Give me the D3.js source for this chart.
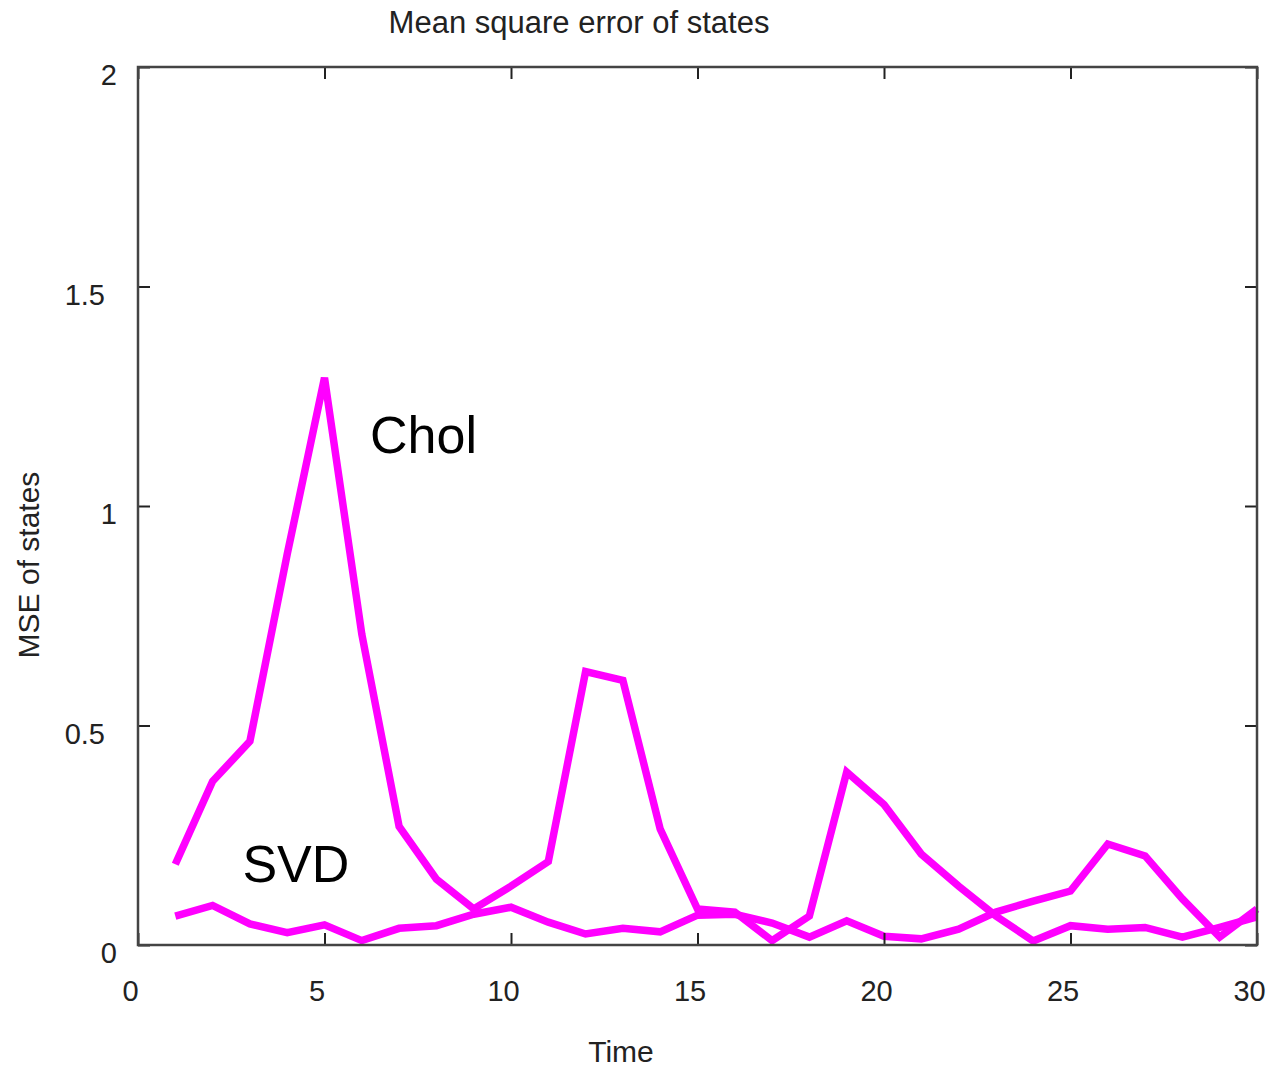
<!DOCTYPE html>
<html>
<head>
<meta charset="utf-8">
<script src="https://cdn.jsdelivr.net/npm/d3@7"></script>
<style>
  html, body { margin: 0; padding: 0; background: #fff; }
  svg { display: block; font-family: "Liberation Sans", Arial, Helvetica, sans-serif; }
</style>
</head>
<body>
<svg id="chart" width="1268" height="1067"></svg>
<script>
// Time steps and mean square error of the state estimates
const time = d3.range(1, 31);
const cholMSE = [0.184, 0.373, 0.464, 0.89, 1.292, 0.708, 0.27, 0.15, 0.082, 0.134,
                 0.19, 0.623, 0.603, 0.264, 0.082, 0.075, 0.01, 0.066, 0.394, 0.32,
                 0.207, 0.134, 0.066, 0.009, 0.044, 0.036, 0.04, 0.018, 0.04, 0.064];
const svdMSE  = [0.066, 0.09, 0.048, 0.028, 0.046, 0.01, 0.038, 0.044, 0.07, 0.086,
                 0.052, 0.025, 0.038, 0.03, 0.068, 0.07, 0.05, 0.018, 0.055, 0.02,
                 0.014, 0.036, 0.075, 0.1, 0.123, 0.23, 0.203, 0.105, 0.018, 0.082];
const xTicks = [0, 5, 10, 15, 20, 25, 30];
const yTicks = [0, 0.5, 1, 1.5, 2];
const seriesLabels = [
  { text: "Chol", t: 6.22, v: 1.12 },
  { text: "SVD",  t: 2.8, v: 0.143 }
];

const svg = d3.select("#chart");
const margin = { left: 138, right: 11, top: 67, bottom: 122 };
const W = 1268, H = 1067;

const x = d3.scaleLinear().domain([0, 30]).range([margin.left, W - margin.right]);
const y = d3.scaleLinear().domain([0, 2]).range([H - margin.bottom, margin.top]);

const frameColor = "#444";
const textColor = "#222";
const tickLen = 12;

// Data lines
const line = d3.line().x((d, i) => x(time[i])).y(d => y(d));
[cholMSE, svdMSE].forEach(vals => {
  svg.append("path")
    .datum(vals)
    .attr("d", line)
    .attr("fill", "none")
    .attr("stroke", "#ff00ff")
    .attr("stroke-width", 7.5)
    .attr("stroke-linejoin", "miter")
    .attr("stroke-miterlimit", 3);
});

// Mirrored inward ticks on all four sides
const axes = [
  d3.axisBottom(x).tickValues(xTicks).tickSizeInner(-tickLen).tickSizeOuter(0).tickFormat(d3.format("d")),
  d3.axisTop(x).tickValues(xTicks).tickSizeInner(-tickLen).tickSizeOuter(0).tickFormat(""),
  d3.axisLeft(y).tickValues(yTicks).tickSizeInner(-tickLen).tickSizeOuter(0).tickFormat(d => d3.format("~g")(d)),
  d3.axisRight(y).tickValues(yTicks).tickSizeInner(-tickLen).tickSizeOuter(0).tickFormat("")
];
const positions = [
  `translate(0,${y(0)})`, `translate(0,${y(2)})`,
  `translate(${x(0)},0)`, `translate(${x(30)},0)`
];
axes.forEach((ax, i) => {
  const g = svg.append("g").attr("transform", positions[i]).call(ax);
  g.select(".domain").remove();
  g.selectAll(".tick line").attr("stroke", "#222").attr("stroke-width", 2);
  g.selectAll(".tick text")
    .attr("fill", textColor)
    .attr("font-size", 29)
    .attr("font-family", "Liberation Sans, Arial, sans-serif");
  if (i === 0) g.selectAll(".tick text").attr("dy", "1.05em").attr("dx", -8).attr("y", 26);
  if (i === 2) g.selectAll(".tick text")
    .attr("x", d => Number.isInteger(d) ? -21 : -33)
    .attr("dy", "0.62em");
});

// Plot frame
svg.append("rect")
  .attr("x", x(0)).attr("y", y(2))
  .attr("width", x(30) - x(0)).attr("height", y(0) - y(2))
  .attr("fill", "none").attr("stroke", frameColor).attr("stroke-width", 2.5);

// Title and axis labels
svg.append("text")
  .attr("x", 579).attr("y", 33)
  .attr("text-anchor", "middle")
  .attr("font-size", 31).attr("fill", textColor)
  .text("Mean square error of states");

svg.append("text")
  .attr("x", 621).attr("y", 1062)
  .attr("text-anchor", "middle")
  .attr("font-size", 30).attr("fill", textColor)
  .text("Time");

svg.append("text")
  .attr("transform", "translate(39,565) rotate(-90)")
  .attr("text-anchor", "middle")
  .attr("font-size", 30).attr("fill", textColor)
  .text("MSE of states");

// Series annotations
svg.selectAll(".series-label")
  .data(seriesLabels)
  .join("text")
  .attr("class", "series-label")
  .attr("x", d => x(d.t)).attr("y", d => y(d.v))
  .attr("font-size", 52).attr("fill", "#000")
  .text(d => d.text);
</script>
</body>
</html>
